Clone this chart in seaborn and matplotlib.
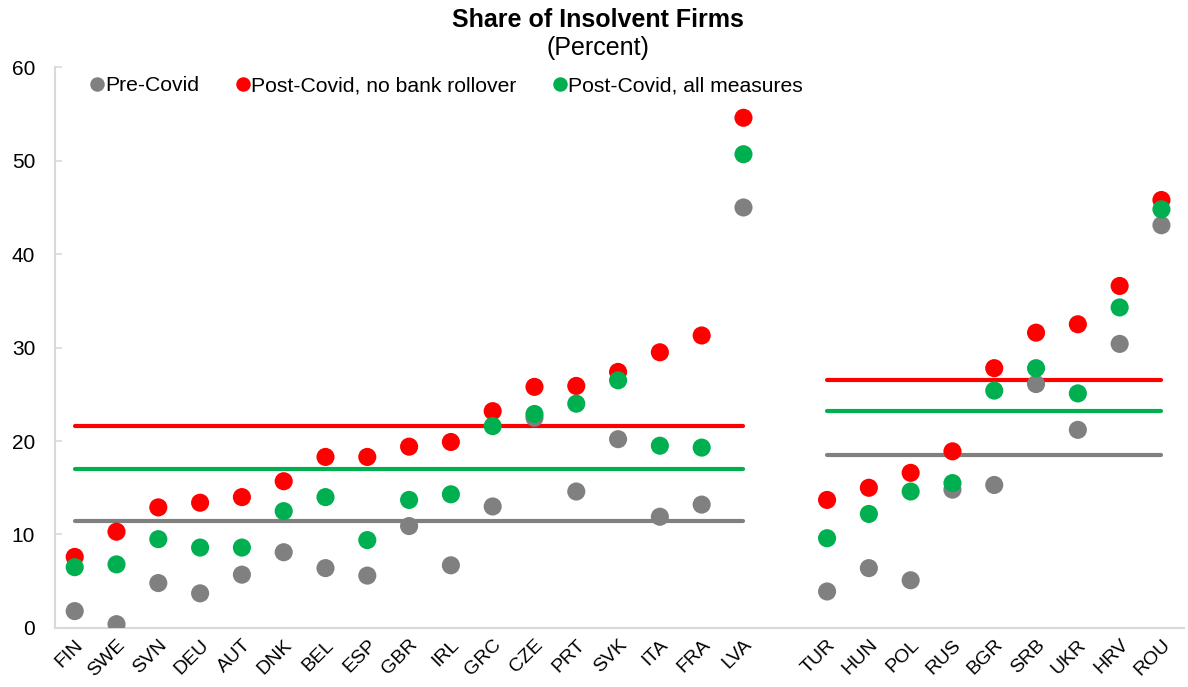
import matplotlib
matplotlib.use("Agg")
import matplotlib.pyplot as plt
import seaborn as sns
import numpy as np
import pandas as pd

# Countries, two groups (advanced / emerging Europe)
group1 = ["FIN", "SWE", "SVN", "DEU", "AUT", "DNK", "BEL", "ESP", "GBR",
          "IRL", "GRC", "CZE", "PRT", "SVK", "ITA", "FRA", "LVA"]
group2 = ["TUR", "HUN", "POL", "RUS", "BGR", "SRB", "UKR", "HRV", "ROU"]

pre_covid_1 = [1.8, 0.4, 4.8, 3.7, 5.7, 8.1, 6.4, 5.6, 10.9,
               6.7, 13.0, 22.5, 14.6, 20.2, 11.9, 13.2, 45.0]
no_rollover_1 = [7.6, 10.3, 12.9, 13.4, 14.0, 15.7, 18.3, 18.3, 19.4,
                 19.9, 23.2, 25.8, 25.9, 27.4, 29.5, 31.3, 54.6]
all_measures_1 = [6.5, 6.8, 9.5, 8.6, 8.6, 12.5, 14.0, 9.4, 13.7,
                  14.3, 21.6, 22.9, 24.0, 26.5, 19.5, 19.3, 50.7]

pre_covid_2 = [3.9, 6.4, 5.1, 14.8, 15.3, 26.1, 21.2, 30.4, 43.1]
no_rollover_2 = [13.7, 15.0, 16.6, 18.9, 27.8, 31.6, 32.5, 36.6, 45.8]
all_measures_2 = [9.6, 12.2, 14.6, 15.5, 25.4, 27.8, 25.1, 34.3, 44.8]

series_names = ["Pre-Covid", "Post-Covid, no bank rollover", "Post-Covid, all measures"]
colors = {"Pre-Covid": "#808080",
          "Post-Covid, no bank rollover": "#FF0000",
          "Post-Covid, all measures": "#00B050"}

# x positions: one empty slot between the two groups
pos1 = np.arange(len(group1))
pos2 = np.arange(len(group2)) + len(group1) + 1

rows = []
for name, v1, v2 in zip(series_names,
                        [pre_covid_1, no_rollover_1, all_measures_1],
                        [pre_covid_2, no_rollover_2, all_measures_2]):
    for c, p, v in zip(group1, pos1, v1):
        rows.append({"country": c, "x": p, "value": v, "series": name})
    for c, p, v in zip(group2, pos2, v2):
        rows.append({"country": c, "x": p, "value": v, "series": name})
df = pd.DataFrame(rows)

sns.set_theme(style="white")
plt.rcParams["font.family"] = ["Liberation Sans", "DejaVu Sans"]
plt.rcParams["text.color"] = "black"
plt.rcParams["xtick.color"] = "black"
plt.rcParams["ytick.color"] = "black"

fig, ax = plt.subplots(figsize=(11.88, 6.87), dpi=100)
fig.subplots_adjust(left=0.046, right=0.997, top=0.902, bottom=0.086)

# group averages as horizontal lines
for name in series_names:
    sub = df[df["series"] == name]
    for pos in (pos1, pos2):
        m = sub[sub["x"].isin(pos)]["value"].mean()
        ax.plot([pos[0], pos[-1]], [m, m], color=colors[name], lw=3,
                solid_capstyle="round", zorder=1)

sns.scatterplot(data=df, x="x", y="value", hue="series", hue_order=series_names,
                palette=colors, s=170, edgecolor="none", ax=ax, zorder=3)

ax.set_xlim(-0.48, pos2[-1] + 0.55)
ax.set_ylim(0, 60)
ax.set_yticks(range(0, 61, 10))
ax.set_xticks(np.concatenate([pos1, pos2]))
ax.set_xticklabels(group1 + group2, rotation=45, ha="right",
                   rotation_mode="anchor", fontsize=14)
ax.tick_params(axis="y", left=True, labelsize=15, direction="in", length=5,
               color="#d9d9d9", labelcolor="black", width=1.2, pad=14)
ax.tick_params(axis="x", length=0, pad=6, labelcolor="black")
ax.set_xlabel("")
ax.set_ylabel("")
for s in ("top", "right"):
    ax.spines[s].set_visible(False)
for s in ("left", "bottom"):
    ax.spines[s].set_color("#d9d9d9")
    ax.spines[s].set_linewidth(1.5)

handles, labels = ax.get_legend_handles_labels()
ax.legend(handles, labels, loc="upper left", bbox_to_anchor=(0.015, 1.018), ncol=3,
          frameon=False, fontsize=15.2, handletextpad=0.1, handlelength=0.6,
          columnspacing=1.75, markerscale=0.8, labelcolor="black")

fig.text(0.503, 0.988, "Share of Insolvent Firms", ha="center", va="top",
         fontsize=18, fontweight="bold")
fig.text(0.503, 0.948, "(Percent)", ha="center", va="top", fontsize=18)

fig.savefig("out.png", dpi=100)
